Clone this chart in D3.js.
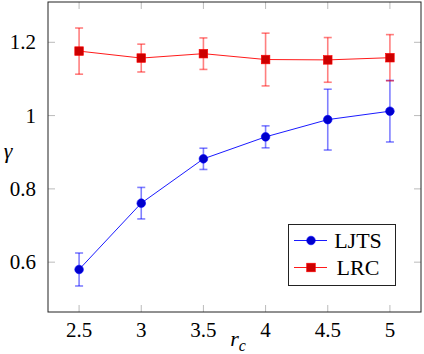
<!DOCTYPE html>
<html>
<head>
<meta charset="UTF-8">
<script src="https://cdnjs.cloudflare.com/ajax/libs/d3/7.8.5/d3.min.js"></script>
</head>
<body style="margin:0">
    <svg width="424" height="354"></svg>
    <script>
        // values
        const rc = [2.5, 3, 3.5, 4, 4.5, 5];
        const ljts = [0.580, 0.761, 0.882, 0.942, 0.989, 1.012];
        const ljtsErr = [0.045, 0.043, 0.029, 0.030, 0.083, 0.084];
        const lrc = [1.176, 1.157, 1.169, 1.153, 1.152, 1.158];
        const lrcErr = [0.063, 0.038, 0.043, 0.072, 0.061, 0.063];
        const xTicks = [2.5, 3, 3.5, 4, 4.5, 5];
        const yTicks = [0.6, 0.8, 1, 1.2];

        const plot = { left: 48, right: 421, top: 2, bottom: 312 };
        const serif = "Liberation Serif";

        const svg = d3.select("svg");

        const x = d3.scaleLinear()
            .domain([2.25, 5.25])
            .range([plot.left, plot.right]);

        const y = d3.scaleLinear()
            .domain([0.464, 1.31])
            .range([plot.bottom, plot.top]);

        const tickLen = 7;

        // tick marks, pointing inward on all four sides
        const tickG = svg.append("g").attr("stroke", "#bbb").attr("stroke-width", 1);
        xTicks.forEach(t => {
            tickG.append("line").attr("x1", x(t)).attr("x2", x(t))
                .attr("y1", plot.bottom).attr("y2", plot.bottom - tickLen);
            tickG.append("line").attr("x1", x(t)).attr("x2", x(t))
                .attr("y1", plot.top).attr("y2", plot.top + tickLen);
        });
        yTicks.forEach(t => {
            tickG.append("line").attr("y1", y(t)).attr("y2", y(t))
                .attr("x1", plot.left).attr("x2", plot.left + tickLen);
            tickG.append("line").attr("y1", y(t)).attr("y2", y(t))
                .attr("x1", plot.right).attr("x2", plot.right - tickLen);
        });

        // tick labels
        svg.selectAll("text.xt")
            .data(xTicks)
            .join("text")
            .attr("class", "xt")
            .attr("x", d => x(d))
            .attr("y", plot.bottom + 25)
            .attr("text-anchor", "middle")
            .attr("font-family", serif)
            .attr("font-size", 21)
            .text(d => d);

        svg.selectAll("text.yt")
            .data(yTicks)
            .join("text")
            .attr("class", "yt")
            .attr("x", plot.left - 12)
            .attr("y", d => y(d) + 7)
            .attr("text-anchor", "end")
            .attr("font-family", serif)
            .attr("font-size", 21)
            .text(d => d);

        // frame
        svg.append("rect")
            .attr("x", plot.left)
            .attr("y", plot.top)
            .attr("width", plot.right - plot.left)
            .attr("height", plot.bottom - plot.top)
            .attr("fill", "none")
            .attr("stroke", "#222")
            .attr("stroke-width", 1);

        // axis labels
        svg.append("text")
            .attr("x", 8)
            .attr("y", 158)
            .attr("text-anchor", "middle")
            .attr("font-family", serif)
            .attr("font-size", 22)
            .attr("font-style", "italic")
            .text("γ");

        const xl = svg.append("text")
            .attr("x", 238)
            .attr("y", 346)
            .attr("text-anchor", "middle")
            .attr("font-family", serif)
            .attr("font-size", 22)
            .attr("font-style", "italic");
        xl.append("tspan").text("r");
        xl.append("tspan").attr("dy", 5).attr("font-size", 16).text("c");

        const series = [
            { name: "LJTS", vals: ljts, err: ljtsErr, color: "#0000ff", fill: "#0000cc", mark: "circle" },
            { name: "LRC", vals: lrc, err: lrcErr, color: "#ff0000", fill: "#cc0000", mark: "square" }
        ];

        const line = d3.line()
            .x(d => x(d[0]))
            .y(d => y(d[1]));

        const cap = 4;

        function drawMark(g, s, cx, cy) {
            if (s.mark === "circle") {
                g.append("circle")
                    .attr("cx", cx).attr("cy", cy).attr("r", 4.3)
                    .attr("fill", s.fill).attr("stroke", s.color).attr("stroke-width", 0.6);
            } else {
                g.append("rect")
                    .attr("x", cx - 4.3).attr("y", cy - 4.3)
                    .attr("width", 8.6).attr("height", 8.6)
                    .attr("fill", s.fill).attr("stroke", s.color).attr("stroke-width", 0.6);
            }
        }

        series.forEach(s => {
            const pts = rc.map((r, i) => [r, s.vals[i], s.err[i]]);
            const g = svg.append("g");

            // error bars
            const eb = g.append("g")
                .attr("stroke", s.color)
                .attr("stroke-opacity", 0.5)
                .attr("stroke-width", 1.6);
            pts.forEach(p => {
                const cx = x(p[0]);
                const y0 = y(p[1] - p[2]);
                const y1 = y(p[1] + p[2]);
                eb.append("line").attr("x1", cx).attr("x2", cx).attr("y1", y0).attr("y2", y1);
                eb.append("line").attr("x1", cx - cap).attr("x2", cx + cap).attr("y1", y0).attr("y2", y0);
                eb.append("line").attr("x1", cx - cap).attr("x2", cx + cap).attr("y1", y1).attr("y2", y1);
            });

            g.append("path")
                .datum(pts)
                .attr("d", line)
                .attr("fill", "none")
                .attr("stroke", s.color)
                .attr("stroke-width", 0.9);

            pts.forEach(p => drawMark(g, s, x(p[0]), y(p[1])));
        });

        // legend
        const legend = svg.append("g");
        legend.append("rect")
            .attr("x", 288.5)
            .attr("y", 224.5)
            .attr("width", 107)
            .attr("height", 61)
            .attr("fill", "#fff")
            .attr("stroke", "#222")
            .attr("stroke-width", 1);

        series.forEach((s, i) => {
            const ry = 240.5 + i * 27;
            legend.append("line")
                .attr("x1", 294).attr("x2", 327)
                .attr("y1", ry).attr("y2", ry)
                .attr("stroke", s.color)
                .attr("stroke-width", 0.9);
            drawMark(legend, s, 311, ry);
            legend.append("text")
                .attr("x", 358)
                .attr("y", ry + 7)
                .attr("text-anchor", "middle")
                .attr("font-family", serif)
                .attr("font-size", 22)
                .text(s.name);
        });
    </script>
</body>
</html>
